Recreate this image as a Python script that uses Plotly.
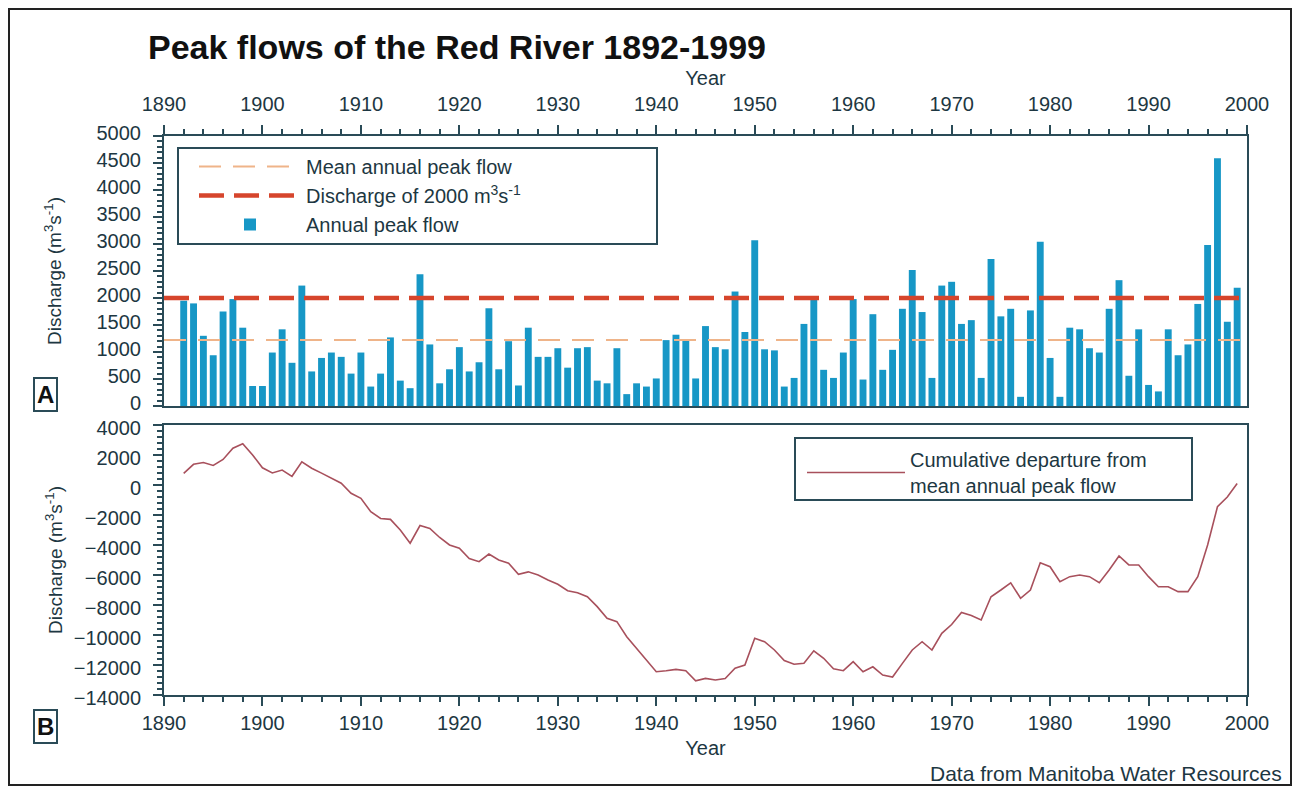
import plotly.graph_objects as go

# ---------------- data ----------------
years = list(range(1892, 2000))

peak_flow = [
    1950, 1900, 1300, 940, 1750, 1980, 1450, 370, 370, 990,    # 1892-1901
    1420, 800, 2230, 640, 890, 990, 910, 600, 990, 360,        # 1902-1911
    600, 1270, 470, 330, 2440, 1140, 420, 680, 1090, 640,      # 1912-1921
    810, 1810, 680, 1200, 380, 1450, 910, 910, 1070, 710,      # 1922-1931
    1070, 1090, 470, 420, 1070, 220, 420, 360, 510, 1220,      # 1932-1941
    1320, 1210, 510, 1480, 1090, 1050, 2120, 1370, 3070, 1050, # 1942-1951
    1030, 360, 520, 1520, 1980, 670, 520, 990, 1980, 490,      # 1952-1961
    1700, 670, 1040, 1800, 2520, 1740, 520, 2230, 2300, 1520,  # 1962-1971
    1590, 520, 2720, 1660, 1800, 170, 1770, 3040, 890, 170,    # 1972-1981
    1450, 1420, 1070, 990, 1800, 2330, 560, 1420, 390, 270,    # 1982-1991
    1420, 940, 1140, 1890, 2980, 4590, 1560, 2190,             # 1992-1999
]

cum_departure = [
    780, 1380, 1500, 1300, 1700, 2450, 2750, 2000, 1150, 800,            # 1892-1901
    1000, 580, 1550, 1120, 790, 450, 120, -550, -890, -1780,             # 1902-1911
    -2230, -2290, -3000, -3880, -2700, -2900, -3500, -4000, -4220, -4900, # 1912-1921
    -5110, -4600, -5000, -5220, -5950, -5790, -6000, -6330, -6620, -7050, # 1922-1931
    -7180, -7450, -8110, -8890, -9110, -10110, -10890, -11670, -12450, -12380, # 1932-1941
    -12290, -12380, -13050, -12890, -13000, -12900, -12220, -12000, -10220, -10450, # 1942-1951
    -11000, -11700, -11950, -11880, -11050, -11550, -12250, -12380, -11780, -12450, # 1952-1961
    -12120, -12670, -12800, -11890, -11000, -10450, -11000, -9890, -9300, -8500,   # 1962-1971
    -8700, -9000, -7450, -7000, -6520, -7550, -7000, -5180, -5450, -6450,         # 1972-1981
    -6110, -6000, -6110, -6510, -5670, -4730, -5330, -5330, -6110, -6780,         # 1982-1991
    -6780, -7110, -7110, -6110, -4000, -1450, -800, 100,                          # 1992-1999
]

mean_peak = 1222
threshold = 2000
line_years = [1890, 2000]

# ---------------- styling ----------------
# the page has an 8px body margin, so the figure is 16px smaller than the window
OFF = 8
W, H = 1301 - 2 * OFF, 794 - 2 * OFF
FONT = "Liberation Sans, Arial, Helvetica, sans-serif"
TEXT = "#1d3742"
AX = "#2a4b57"
BAR = "#1797c6"
RED = "#d6452c"
PEACH = "#efb489"
CUM = "#a8505c"


def px(x):
    """window pixel x -> paper fraction"""
    return (x - OFF) / W


def py(y):
    """window pixel y -> paper fraction"""
    return 1 - (y - OFF) / H


X_DOM = [px(164), px(1247)]
Y1_DOM = [py(406), py(136)]
Y2_DOM = [py(695), py(425)]

fig = go.Figure()

fig.add_trace(go.Bar(
    x=years, y=peak_flow, width=0.7, marker=dict(color=BAR, line=dict(width=0)),
    name="Annual peak flow", xaxis="x", yaxis="y", legend="legend",
    legendgroup="c", legendrank=3,
))
fig.add_trace(go.Scatter(
    x=line_years, y=[mean_peak, mean_peak], mode="lines",
    line=dict(color=PEACH, width=2, dash="22px,12px"),
    name="Mean annual peak flow", xaxis="x", yaxis="y", legend="legend",
    legendgroup="a", legendrank=1,
))
fig.add_trace(go.Scatter(
    x=line_years, y=[threshold, threshold], mode="lines",
    line=dict(color=RED, width=4.5, dash="25px,10px"),
    name="Discharge of 2000 m<sup>3</sup>s<sup>-1</sup>", xaxis="x", yaxis="y",
    legend="legend", legendgroup="b", legendrank=2,
))
fig.add_trace(go.Scatter(
    x=years, y=cum_departure, mode="lines",
    line=dict(color=CUM, width=1.6),
    name="Cumulative departure from<br>mean annual peak flow",
    xaxis="x2", yaxis="y2", legend="legend2",
))

common_x = dict(
    range=[1890, 2000], tick0=1890, dtick=10, ticks="outside", ticklen=9,
    tickwidth=2, tickcolor=AX, showline=True, linecolor=AX, linewidth=2,
    mirror=True, showgrid=False, zeroline=False, automargin=False,
    tickfont=dict(size=20, color=TEXT),
    minor=dict(dtick=2, tick0=1890, ticks="outside", ticklen=5, tickwidth=1.5, tickcolor=AX),
)
common_y = dict(
    ticks="outside", ticklen=9, tickwidth=2, tickcolor=AX, showline=True,
    linecolor=AX, linewidth=2, mirror=True, showgrid=False, zeroline=False,
    automargin=False, tickformat="d", ticklabelstandoff=8,
    tickfont=dict(size=20, color=TEXT),
)

fig.update_layout(
    width=W, height=H, margin=dict(l=0, r=0, t=0, b=0, autoexpand=False),
    paper_bgcolor="white", plot_bgcolor="white",
    font=dict(family=FONT, size=20, color=TEXT),
    showlegend=True,
    xaxis=dict(common_x, domain=X_DOM, anchor="y", side="top", ticklabelstandoff=6,
               title=dict(text="Year", standoff=2, font=dict(size=20))),
    yaxis=dict(common_y, domain=Y1_DOM, anchor="x", range=[0, 5000], dtick=500,
               ticklabelshift=-3,
               minor=dict(dtick=100, ticks="outside", ticklen=5, tickwidth=1.5, tickcolor=AX),
               title=dict(text="Discharge (m<sup>3</sup>s<sup>-1</sup>)", standoff=30, font=dict(size=19))),
    xaxis2=dict(common_x, domain=X_DOM, anchor="y2", side="bottom",
                title=dict(text="Year", standoff=8, font=dict(size=20))),
    yaxis2=dict(common_y, domain=Y2_DOM, anchor="x2", range=[-14000, 4000], dtick=2000,
                ticklabelshift=3,
                minor=dict(dtick=400, ticks="outside", ticklen=5, tickwidth=1.5, tickcolor=AX),
                title=dict(text="Discharge (m<sup>3</sup>s<sup>-1</sup>)", standoff=6, font=dict(size=19))),
    legend=dict(x=px(194), y=py(147), xanchor="left", yanchor="top",
                bgcolor="rgba(0,0,0,0)", borderwidth=0, itemwidth=102,
                tracegroupgap=0, font=dict(size=20, color=TEXT)),
    legend2=dict(x=px(802), y=py(440), xanchor="left", yanchor="top",
                 bgcolor="rgba(0,0,0,0)", borderwidth=0, itemwidth=98,
                 font=dict(size=20, color=TEXT)),
    shapes=[
        dict(type="rect", xref="paper", yref="paper", x0=px(9), x1=px(1291),
             y0=py(785), y1=py(9), line=dict(color="#222", width=2)),
        dict(type="rect", xref="paper", yref="paper", x0=px(178), x1=px(657),
             y0=py(244), y1=py(148), line=dict(color=AX, width=2)),
        dict(type="rect", xref="paper", yref="paper", x0=px(795), x1=px(1192),
             y0=py(500), y1=py(438), line=dict(color=AX, width=2)),
    ],
    annotations=[
        dict(text="<b>Peak flows of the Red River 1892-1999</b>", xref="paper", yref="paper",
             x=px(146), y=py(47), xanchor="left", yanchor="middle", showarrow=False,
             font=dict(size=34, color="#111")),
        dict(text="<b>A</b>", xref="paper", yref="paper", x=px(45), y=py(394),
             xanchor="center", yanchor="middle", showarrow=False,
             bordercolor=AX, borderwidth=2, borderpad=2, font=dict(size=24, color="#111")),
        dict(text="<b>B</b>", xref="paper", yref="paper", x=px(45), y=py(726),
             xanchor="center", yanchor="middle", showarrow=False,
             bordercolor=AX, borderwidth=2, borderpad=2, font=dict(size=24, color="#111")),
        dict(text="Data from Manitoba Water Resources", xref="paper", yref="paper",
             x=px(1284), y=py(773), xanchor="right", yanchor="middle", showarrow=False,
             font=dict(size=21, color=TEXT)),
    ],
)

fig.write_html("out.html")
